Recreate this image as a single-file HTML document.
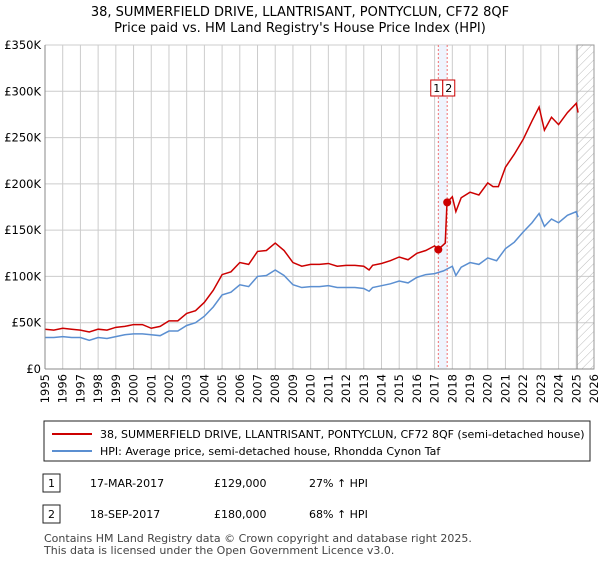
<!DOCTYPE html>
<html><head><meta charset="utf-8"><style>
body{margin:0;background:#fff;font-family:"DejaVu Sans","Liberation Sans",sans-serif;color:#222}
svg text{font-family:"DejaVu Sans","Liberation Sans",sans-serif}
</style></head><body>
<svg id="c" width="600" height="560" xmlns="http://www.w3.org/2000/svg">
<defs><pattern id="hatch" width="6" height="6" patternUnits="userSpaceOnUse" patternTransform="rotate(45)"><line x1="0" y1="0" x2="0" y2="6" stroke="#bbb" stroke-width="1"/></pattern></defs>
<text x="300" y="16" text-anchor="middle" font-size="13">38, SUMMERFIELD DRIVE, LLANTRISANT, PONTYCLUN, CF72 8QF</text>
<text x="300" y="32" text-anchor="middle" font-size="13">Price paid vs. HM Land Registry's House Price Index (HPI)</text>
<g id="grid"></g><g id="marks"></g><g id="axes"></g>
<rect x="44" y="421" width="546" height="40" fill="#fff" stroke="#222"/>
<line x1="52" y1="434" x2="92" y2="434" stroke="#cc0000" stroke-width="2"/>
<text x="100" y="438" font-size="11">38, SUMMERFIELD DRIVE, LLANTRISANT, PONTYCLUN, CF72 8QF (semi-detached house)</text>
<line x1="52" y1="451" x2="92" y2="451" stroke="#5b8fd1" stroke-width="2"/>
<text x="100" y="455" font-size="11">HPI: Average price, semi-detached house, Rhondda Cynon Taf</text>
<rect x="43" y="474" width="17" height="18" fill="#fff" stroke="#222"/>
<text x="51.5" y="487" font-size="11" text-anchor="middle">1</text>
<text x="90" y="487" font-size="11">17-MAR-2017</text>
<text x="214" y="487" font-size="11">£129,000</text>
<text x="309" y="487" font-size="11">27% ↑ HPI</text>
<rect x="43" y="505" width="17" height="18" fill="#fff" stroke="#222"/>
<text x="51.5" y="518" font-size="11" text-anchor="middle">2</text>
<text x="90" y="518" font-size="11">18-SEP-2017</text>
<text x="214" y="518" font-size="11">£180,000</text>
<text x="309" y="518" font-size="11">68% ↑ HPI</text>
<text x="44" y="542" font-size="11" fill="#444">Contains HM Land Registry data © Crown copyright and database right 2025.</text>
<text x="44" y="554" font-size="11" fill="#444">This data is licensed under the Open Government Licence v3.0.</text>
</svg>
<script>
const yearTicks=[1995,1996,1997,1998,1999,2000,2001,2002,2003,2004,2005,2006,2007,2008,2009,2010,2011,2012,2013,2014,2015,2016,2017,2018,2019,2020,2021,2022,2023,2024,2025,2026];
const yTicks=[0,50000,100000,150000,200000,250000,300000,350000];
const yTickLabels=["£0","£50K","£100K","£150K","£200K","£250K","£300K","£350K"];
const hpiYears=[1995,1995.5,1996,1996.5,1997,1997.5,1998,1998.5,1999,1999.5,2000,2000.5,2001,2001.5,2002,2002.5,2003,2003.5,2004,2004.5,2005,2005.5,2006,2006.5,2007,2007.5,2008,2008.5,2009,2009.5,2010,2010.5,2011,2011.5,2012,2012.5,2013,2013.3,2013.5,2014,2014.5,2015,2015.5,2016,2016.5,2017,2017.5,2018,2018.2,2018.5,2019,2019.5,2020,2020.5,2021,2021.5,2022,2022.5,2022.9,2023.2,2023.6,2024,2024.5,2025,2025.1];
const hpiValues=[34,34,35,34,34,31,34,33,35,37,38,38,37,36,41,41,47,50,57,67,80,83,91,89,100,101,107,101,91,88,89,89,90,88,88,88,87,84,88,90,92,95,93,99,102,103,106,111,101,110,115,113,120,117,130,137,148,158,168,154,162,158,166,170,164];
const priceYears=[1995,1995.5,1996,1996.5,1997,1997.5,1998,1998.5,1999,1999.5,2000,2000.5,2001,2001.5,2002,2002.5,2003,2003.5,2004,2004.5,2005,2005.5,2006,2006.5,2007,2007.5,2008,2008.5,2009,2009.5,2010,2010.5,2011,2011.5,2012,2012.5,2013,2013.3,2013.5,2014,2014.5,2015,2015.5,2016,2016.5,2017,2017.2,2017.6,2017.7,2018,2018.2,2018.5,2019,2019.5,2020,2020.3,2020.6,2021,2021.5,2022,2022.5,2022.9,2023.2,2023.6,2024,2024.5,2025,2025.1];
const priceValues=[43,42,44,43,42,40,43,42,45,46,48,48,44,46,52,52,60,63,72,85,102,105,115,113,127,128,136,128,115,111,113,113,114,111,112,112,111,107,112,114,117,121,118,125,128,133,129,136,180,186,170,185,191,188,201,197,197,218,232,248,268,283,258,272,264,277,287,277];
const saleYears=[2017.21,2017.71];
const saleValues=[129000,180000];
const saleLabels=["1","2"];
const X0=45,X1=594,Y0=369,Y1=45;
const xs=y=>X0+(y-1995)/(2026-1995)*(X1-X0);
const ys=v=>Y0-v/350000*(Y0-Y1);
const NS="http://www.w3.org/2000/svg";
function mk(p,t,a){const e=document.createElementNS(NS,t);for(const k in a)e.setAttribute(k,a[k]);p.appendChild(e);return e;}
const grid=document.getElementById('grid'),marks=document.getElementById('marks'),axes=document.getElementById('axes');
yearTicks.forEach(y=>{const l=mk(grid,'line',{x1:xs(y),x2:xs(y),y1:Y1,y2:Y0,stroke:'#ccc'});


const tx=xs(y)+4,ty=Y0+5;
const t=mk(axes,'text',{x:tx,y:ty,'text-anchor':'end','font-size':'11.5',transform:'rotate(-90 '+tx+' '+ty+')'});t.textContent=y;

});
yTicks.forEach((v,i)=>{const l=mk(grid,'line',{x1:X0,x2:X1,y1:ys(v),y2:ys(v),stroke:'#ccc'});


const t=mk(axes,'text',{x:X0-4,y:ys(v)+4,'text-anchor':'end','font-size':'11.5'});t.textContent=yTickLabels[i];

});
const fut=mk(grid,'rect',{x:xs(2025.05),y:Y1,width:X1-xs(2025.05),height:Y0-Y1,fill:'url(#hatch)',stroke:'#999'});


const band=mk(grid,'rect',{x:xs(saleYears[0]),y:Y1,width:xs(saleYears[1])-xs(saleYears[0]),height:Y0-Y1,fill:'#e8f0fc',opacity:0.7});


saleYears.forEach(y=>{const l=mk(grid,'line',{x1:xs(y),x2:xs(y),y1:Y1,y2:Y0,stroke:'#f07070','stroke-dasharray':'2,2'});

});
mk(axes,'line',{x1:X0,x2:X0,y1:Y1,y2:Y0,stroke:'#888'});
mk(axes,'line',{x1:X0,x2:X1,y1:Y0,y2:Y0,stroke:'#888'});
const hp=mk(marks,'polyline',{points:hpiYears.map((y,i)=>xs(y)+','+ys(hpiValues[i]*1000)).join(' '),fill:'none',stroke:'#5b8fd1','stroke-width':1.5});


const pp=mk(marks,'polyline',{points:priceYears.map((y,i)=>xs(y)+','+ys(priceValues[i]*1000)).join(' '),fill:'none',stroke:'#cc0000','stroke-width':1.5});


const mid=(xs(saleYears[0])+xs(saleYears[1]))/2;
saleYears.forEach((y,i)=>{const c=mk(marks,'circle',{cx:xs(y),cy:ys(saleValues[i]),r:4,fill:'#cc0000'});


const bx=mid+(i===0?-12:0);
const r=mk(marks,'rect',{x:bx,y:80,width:12,height:16,fill:'#fff',stroke:'#cc0000'});


const t=mk(marks,'text',{x:bx+6,y:92,'text-anchor':'middle','font-size':'11'});t.textContent=saleLabels[i];

});
</script>
</body></html>
